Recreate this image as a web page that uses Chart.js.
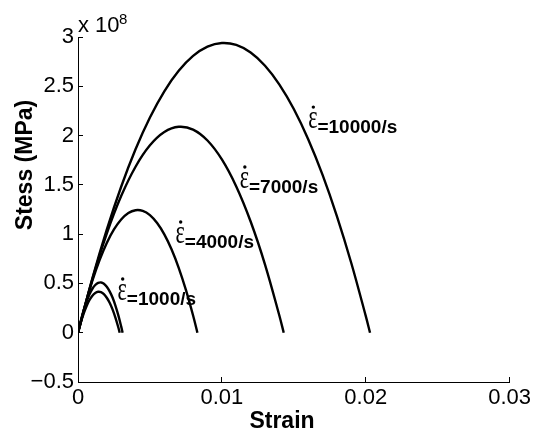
<!DOCTYPE html>
<html><head><meta charset="utf-8">
<script src="https://cdn.jsdelivr.net/npm/chart.js@4/dist/chart.umd.min.js"></script>
<style>html,body{margin:0;padding:0;background:#fff}#wrap{width:539px;height:432px}</style>
</head><body><div id="wrap"><canvas id="c" width="539" height="432"></canvas></div>
<script>
// Stress in units of 1e8 Pa (axis multiplier "x 10^8")
const strain10000 = [0,0.001,0.002,0.003,0.004,0.005,0.006,0.007,0.008,0.009,0.010,0.011,0.012,0.013,0.014,0.015,0.016,0.017,0.018,0.019,0.020,0.0203];
const stress10000 = [0,0.551,1.045,1.481,1.861,2.183,2.449,2.657,2.808,2.902,2.939,2.919,2.842,2.708,2.517,2.269,1.963,1.601,1.181,0.705,0.171,0];

const strain7000 = [0,0.001,0.002,0.003,0.004,0.005,0.006,0.007,0.008,0.009,0.010,0.011,0.012,0.013,0.014,0.0143];
const stress7000 = [0,0.544,1.006,1.386,1.684,1.901,2.036,2.089,2.061,1.950,1.758,1.484,1.128,0.691,0.172,0];

const strain4000 = [0,0.0005,0.001,0.0015,0.002,0.0025,0.003,0.0035,0.004,0.0045,0.005,0.0055,0.006,0.0065,0.007,0.0075,0.008,0.0083];
const stress4000 = [0,0.282,0.528,0.737,0.911,1.048,1.149,1.215,1.243,1.236,1.193,1.113,0.998,0.846,0.658,0.434,0.174,0];

const strain2000 = [0,0.0002,0.0004,0.0006,0.0008,0.0010,0.0012,0.0014,0.0016,0.0018,0.0020,0.0022,0.0024,0.0026,0.0028,0.0030,0.0031];
const stress2000 = [0,0.123,0.229,0.318,0.391,0.446,0.484,0.505,0.510,0.497,0.467,0.420,0.357,0.276,0.178,0.064,0];

const strain1000 = [0,0.0002,0.0004,0.0006,0.0008,0.0010,0.0012,0.0014,0.0016,0.0018,0.0020,0.0022,0.0024,0.0026,0.0028,0.0029];
const stress1000 = [0,0.107,0.197,0.272,0.332,0.375,0.403,0.415,0.411,0.391,0.355,0.304,0.237,0.154,0.055,0];

const xTickValues = [0,0.01,0.02,0.03];
const xTickLabels = ['0','0.01','0.02','0.03'];
const yTickValues = [-0.5,0,0.5,1,1.5,2,2.5,3];
const yTickLabels = ['\u22120.5','0','0.5','1','1.5','2','2.5','3'];

const rateLabels = ['=10000/s','=7000/s','=4000/s','=1000/s'];
const rateLabelAnchorX = [0.0160,0.01124,0.00678,0.00275];
const rateLabelAnchorY = [2.025,1.417,0.859,0.281];

const xTitle = 'Strain';
const yTitle = 'Stess (MPa)';

function pts(xs, ys){ return xs.map((x,i)=>({x:x,y:ys[i]})); }

const series = [
  [strain10000, stress10000],
  [strain7000, stress7000],
  [strain4000, stress4000],
  [strain2000, stress2000],
  [strain1000, stress1000]
];

const datasets = series.map(s => ({
  data: pts(s[0], s[1]),
  showLine: true,
  borderColor: '#000',
  borderWidth: 2.4,
  pointRadius: 0,
  tension: 0.35,
  fill: false
}));

const FONT = "'Liberation Sans', Arial, Helvetica, sans-serif";

const annotPlugin = {
  id: 'annot',
  afterDraw(chart){
    const ctx = chart.ctx;
    const xs = chart.scales.x, ys = chart.scales.y;
    ctx.save();
    ctx.fillStyle = '#000';
    // multiplier
    ctx.textBaseline = 'alphabetic';
    ctx.textAlign = 'left';
    ctx.font = "22px " + FONT;
    ctx.fillText('x 10', 78, 32);
    ctx.font = "15px " + FONT;
    ctx.fillText('8', 119, 24);
    // rate labels
    for (let i=0;i<rateLabels.length;i++){
      const px = xs.getPixelForValue(rateLabelAnchorX[i]);
      const py = ys.getPixelForValue(rateLabelAnchorY[i]);
      ctx.font = "26px 'Liberation Serif', 'DejaVu Serif', serif";
      const w = ctx.measureText('\u03b5').width * 0.85;
      ctx.save();
      ctx.translate(px, py - 5);
      ctx.scale(0.85, 1.3);
      ctx.fillText('\u03b5', 0, 0);
      ctx.restore();
      ctx.beginPath();
      ctx.arc(px + w/2 + 0.5, py - 26, 1.7, 0, Math.PI*2);
      ctx.fill();
      ctx.font = "bold 19px " + FONT;
      ctx.fillText(rateLabels[i], px + w, py);
    }
    // axis titles
    ctx.font = "bold 23px " + FONT;
    ctx.textAlign = 'center';
    ctx.fillText(xTitle, 282, 428);
    ctx.translate(32, 165);
    ctx.rotate(-Math.PI/2);
    ctx.fillText(yTitle, 0, 0);
    ctx.restore();
  }
};

new Chart(document.getElementById('c'), {
  type: 'scatter',
  data: { datasets },
  options: {
    responsive: false,
    devicePixelRatio: 1,
    animation: false,
    events: [],
    layout: { padding: { top: 37, right: 24, left: 0, bottom: 0 } },
    plugins: { legend: { display: false }, tooltip: { enabled: false } },
    scales: {
      x: {
        type: 'linear', min: 0, max: 0.03,
        afterBuildTicks(scale){ scale.ticks = xTickValues.map(v=>({value:v})); },
        afterFit(scale){ scale.height = 50; },
        ticks: { color: '#000', font: { size: 22, family: FONT }, padding: 8, maxRotation: 0,
          callback: (v, i) => xTickLabels[i] },
        grid: { drawOnChartArea: false, drawTicks: true, tickLength: -5, color: '#000', lineWidth: 1 },
        border: { display: true, color: '#000', width: 1 }
      },
      y: {
        type: 'linear', min: -0.5, max: 3,
        afterBuildTicks(scale){ scale.ticks = yTickValues.map(v=>({value:v})); },
        afterFit(scale){ scale.width = 78; },
        ticks: { color: '#000', font: { size: 22, family: FONT }, padding: 9,
          callback: (v, i) => yTickLabels[i] },
        grid: { drawOnChartArea: false, drawTicks: true, tickLength: -5, color: '#000', lineWidth: 1 },
        border: { display: true, color: '#000', width: 1 }
      }
    }
  },
  plugins: [annotPlugin]
});
</script>
</body></html>
